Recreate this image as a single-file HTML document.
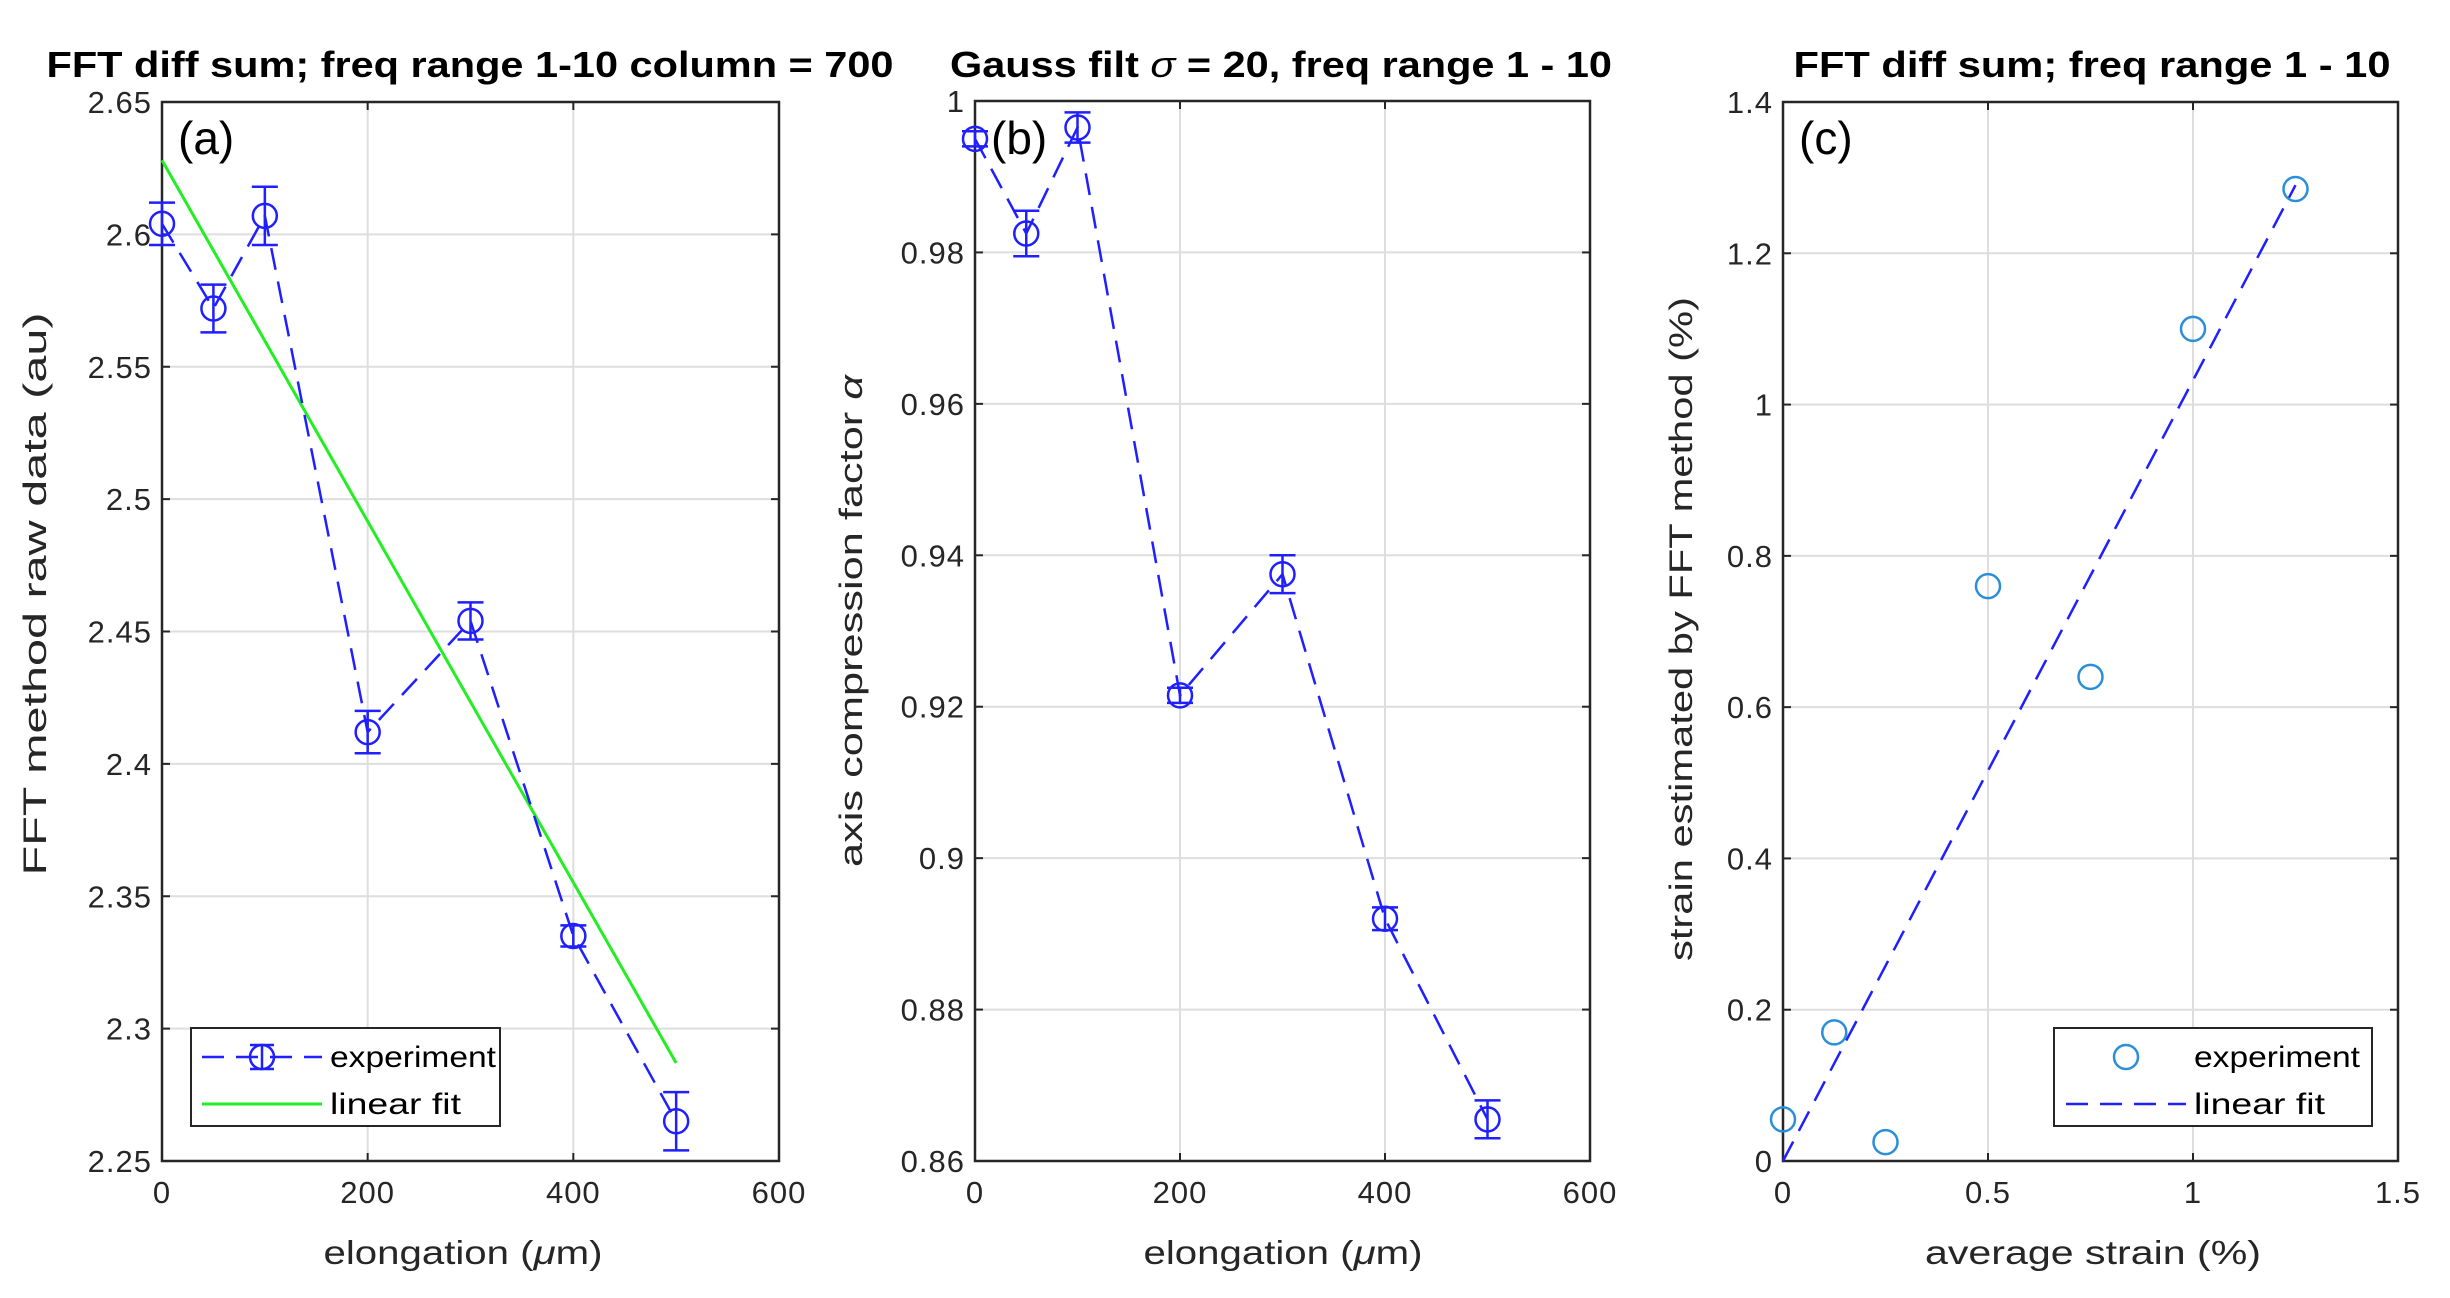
<!DOCTYPE html>
<html><head><meta charset="utf-8"><style>
html,body{margin:0;padding:0;background:#fff;}
svg{display:block;}
text{font-family:"Liberation Sans",sans-serif;}
.tick{font-size:31px;fill:#262626;letter-spacing:1px;}
</style></head><body>
<svg id="fig" width="2450" height="1298" viewBox="0 0 2450 1298" xmlns="http://www.w3.org/2000/svg"></svg>
<script>
// Panel (a) data
const aX = [0, 50, 100, 200, 300, 400, 500];
const aY = [2.604, 2.572, 2.607, 2.412, 2.454, 2.335, 2.265];
const aErr = [0.008, 0.009, 0.011, 0.008, 0.007, 0.004, 0.011];
const aFitX = [0, 500];
const aFitY = [2.628, 2.287];
const aXTicks = [0, 200, 400, 600];
const aYTicks = [2.25, 2.3, 2.35, 2.4, 2.45, 2.5, 2.55, 2.6, 2.65];
const aYTickLabels = ["2.25","2.3","2.35","2.4","2.45","2.5","2.55","2.6","2.65"];
// Panel (b) data
const bX = [0, 50, 100, 200, 300, 400, 500];
const bY = [0.995, 0.9825, 0.9965, 0.9215, 0.9375, 0.892, 0.8655];
const bErr = [0.001, 0.003, 0.002, 0.001, 0.0025, 0.0015, 0.0025];
const bXTicks = [0, 200, 400, 600];
const bYTicks = [0.86, 0.88, 0.9, 0.92, 0.94, 0.96, 0.98, 1];
const bYTickLabels = ["0.86","0.88","0.9","0.92","0.94","0.96","0.98","1"];
// Panel (c) data
const cX = [0, 0.125, 0.25, 0.5, 0.75, 1, 1.25];
const cY = [0.055, 0.17, 0.025, 0.76, 0.64, 1.1, 1.285];
const cFitX = [0, 1.25];
const cFitY = [0, 1.29];
const cXTicks = [0, 0.5, 1, 1.5];
const cXTickLabels = ["0","0.5","1","1.5"];
const cYTicks = [0, 0.2, 0.4, 0.6, 0.8, 1, 1.2, 1.4];
const cYTickLabels = ["0","0.2","0.4","0.6","0.8","1","1.2","1.4"];

const NS = "http://www.w3.org/2000/svg";
const svg = document.getElementById("fig");
function mk(tag, attrs, parent, txt) {
  const e = document.createElementNS(NS, tag);
  for (const k in attrs) e.setAttribute(k, attrs[k]);
  if (txt !== undefined) e.textContent = txt;
  (parent || svg).appendChild(e);
  return e;
}
function scale(d0, d1, r0, r1) { return v => r0 + (v - d0) / (d1 - d0) * (r1 - r0); }

function axes(p, g) {
  const sx = scale(p.xmin, p.xmax, p.L, p.R), sy = scale(p.ymin, p.ymax, p.B, p.T);
  p.xTicks.forEach((t, i) => {
    const x = sx(t);
    const gl = mk("line", {x1:x, x2:x, y1:p.T, y2:p.B, stroke:"#dedede", "stroke-width":2}, g);
    
    
    mk("line", {x1:x, x2:x, y1:p.B, y2:p.B-8, stroke:"#262626", "stroke-width":2}, g);
    mk("line", {x1:x, x2:x, y1:p.T, y2:p.T+8, stroke:"#262626", "stroke-width":2}, g);
    const tl = mk("text", {x:x, y:p.B+42, "text-anchor":"middle", class:"tick"}, g, p.xLabels ? p.xLabels[i] : String(t));
    
    
  });
  p.yTicks.forEach((t, i) => {
    const y = sy(t);
    const gl = mk("line", {x1:p.L, x2:p.R, y1:y, y2:y, stroke:"#dedede", "stroke-width":2}, g);
    
    
    mk("line", {x1:p.L, x2:p.L+8, y1:y, y2:y, stroke:"#262626", "stroke-width":2}, g);
    mk("line", {x1:p.R, x2:p.R-8, y1:y, y2:y, stroke:"#262626", "stroke-width":2}, g);
    const tl = mk("text", {x:p.L-10, y:y+11, "text-anchor":"end", class:"tick"}, g, p.yLabels[i]);
    
    
  });
  const box = mk("rect", {x:p.L, y:p.T, width:p.R-p.L, height:p.B-p.T, fill:"none", stroke:"#262626", "stroke-width":2.5}, g);
  
  
  const ti = mk("text", {x:p.titleX, y:77, "text-anchor":"middle", "font-size":36, "font-weight":"bold", fill:"#000", textLength:p.titleLen, lengthAdjust:"spacingAndGlyphs"}, g);
  
  
  ti.innerHTML = p.title;
  const xl = mk("text", {x:p.xTitleX, y:1264, "text-anchor":"middle", "font-size":33, fill:"#262626", textLength:p.xTitleLen, lengthAdjust:"spacingAndGlyphs"}, g);
  
  
  xl.innerHTML = p.xTitle;
  const yl = mk("text", {x:0, y:0, transform:`translate(${p.yTitleX},${p.yTitleC}) rotate(-90)`, "text-anchor":"middle", "font-size":32, fill:"#262626", textLength:p.yTitleLen, lengthAdjust:"spacingAndGlyphs"}, g);
  
  
  yl.innerHTML = p.yTitle;
  const pl = mk("text", {x:p.L+16, y:154, "font-size":46, fill:"#000"}, g, p.panel);
  
  
  return [sx, sy];
}

function errSeries(xs, ys, errs, sx, sy, g) {
  const pts = xs.map((x, i) => sx(x) + "," + sy(ys[i])).join(" ");
  const ln = mk("polyline", {points:pts, fill:"none", stroke:"#1f1fff", "stroke-width":2.5, "stroke-dasharray":"22,12"}, g);
  
  
  xs.forEach((x, i) => {
    const cx = sx(x), cy = sy(ys[i]), y1 = sy(ys[i] + errs[i]), y2 = sy(ys[i] - errs[i]);
    const eg = mk("g", {stroke:"#1f1fff", "stroke-width":2.5, fill:"none"}, g);
    
    
    mk("line", {x1:cx, x2:cx, y1:y1, y2:y2}, eg);
    mk("line", {x1:cx-13, x2:cx+13, y1:y1, y2:y1}, eg);
    mk("line", {x1:cx-13, x2:cx+13, y1:y2, y2:y2}, eg);
    mk("circle", {cx:cx, cy:cy, r:12}, eg);
  });
}

function legend(x, y, w, g, items) {
  const lg = mk("g", {}, g);
  
  
  mk("rect", {x:x, y:y, width:w, height:98, fill:"#fff", stroke:"#262626", "stroke-width":2}, lg);
  items(lg);
}

// Panel a
{
  const g = mk("g", {});  
  const p = {L:162, R:779, T:102, B:1161, xmin:0, xmax:600, ymin:2.25, ymax:2.65, xTicks:aXTicks, yTicks:aYTicks, yLabels:aYTickLabels,
    title:"FFT diff sum; freq range 1-10 column = 700", titleX:470, titleLen:847,
    xTitle:"elongation (<tspan font-style='italic'>μ</tspan>m)", xTitleX:463, xTitleLen:279,
    yTitle:"FFT method raw data (au)", yTitleX:46, yTitleC:594, yTitleLen:563, panel:"(a)"};
  const [sx, sy] = axes(p, g);
  const fit = mk("line", {x1:sx(aFitX[0]), y1:sy(aFitY[0]), x2:sx(aFitX[1]), y2:sy(aFitY[1]), stroke:"#22ee22", "stroke-width":3}, g);
  
  
  errSeries(aX, aY, aErr, sx, sy, g);
  legend(191, 1028, 309, g, lg => {
    mk("line", {x1:202, x2:322, y1:1057, y2:1057, stroke:"#1f1fff", "stroke-width":2.5, "stroke-dasharray":"22,12"}, lg);
    mk("circle", {cx:262, cy:1057, r:12, stroke:"#1f1fff", "stroke-width":2.5, fill:"none"}, lg);
    mk("line", {x1:262, x2:262, y1:1045, y2:1069, stroke:"#1f1fff", "stroke-width":2.5}, lg);
    mk("line", {x1:250, x2:274, y1:1045, y2:1045, stroke:"#1f1fff", "stroke-width":2.5}, lg);
    mk("line", {x1:250, x2:274, y1:1069, y2:1069, stroke:"#1f1fff", "stroke-width":2.5}, lg);
    mk("text", {x:330, y:1067, "font-size":30, fill:"#000", textLength:166, lengthAdjust:"spacingAndGlyphs"}, lg, "experiment");
    mk("line", {x1:202, x2:322, y1:1104, y2:1104, stroke:"#22ee22", "stroke-width":3}, lg);
    mk("text", {x:330, y:1114, "font-size":30, fill:"#000", textLength:131, lengthAdjust:"spacingAndGlyphs"}, lg, "linear fit");
  });
}
// Panel b
{
  const g = mk("g", {});  
  const p = {L:975, R:1590, T:101, B:1161, xmin:0, xmax:600, ymin:0.86, ymax:1, xTicks:bXTicks, yTicks:bYTicks, yLabels:bYTickLabels,
    title:"Gauss filt <tspan font-style='italic' font-weight='normal'>σ</tspan> = 20, freq range 1 - 10", titleX:1281, titleLen:662,
    xTitle:"elongation (<tspan font-style='italic'>μ</tspan>m)", xTitleX:1283, xTitleLen:279,
    yTitle:"axis compression factor <tspan font-style='italic'>α</tspan>", yTitleX:862, yTitleC:621, yTitleLen:492, panel:"(b)"};
  const [sx, sy] = axes(p, g);
  errSeries(bX, bY, bErr, sx, sy, g);
}
// Panel c
{
  const g = mk("g", {});  
  const p = {L:1783, R:2398, T:102, B:1161, xmin:0, xmax:1.5, ymin:0, ymax:1.4, xTicks:cXTicks, xLabels:cXTickLabels, yTicks:cYTicks, yLabels:cYTickLabels,
    title:"FFT diff sum; freq range 1 - 10", titleX:2092, titleLen:597,
    xTitle:"average strain (%)", xTitleX:2093, xTitleLen:336,
    yTitle:"strain estimated by FFT method (%)", yTitleX:1692, yTitleC:629, yTitleLen:664, panel:"(c)"};
  const [sx, sy] = axes(p, g);
  const fit = mk("line", {x1:sx(cFitX[0]), y1:sy(cFitY[0]), x2:sx(cFitX[1]), y2:sy(cFitY[1]), stroke:"#1f1fff", "stroke-width":2.5, "stroke-dasharray":"22,12"}, g);
  
  
  cX.forEach((x, i) => {
    const c = mk("circle", {cx:sx(x), cy:sy(cY[i]), r:12, fill:"none", stroke:"#2a8fd8", "stroke-width":2.5}, g);
    
    
  });
  legend(2054, 1028, 318, g, lg => {
    mk("circle", {cx:2126, cy:1057, r:12, stroke:"#2a8fd8", "stroke-width":2.5, fill:"none"}, lg);
    mk("text", {x:2194, y:1067, "font-size":30, fill:"#000", textLength:166, lengthAdjust:"spacingAndGlyphs"}, lg, "experiment");
    mk("line", {x1:2066, x2:2186, y1:1104, y2:1104, stroke:"#1f1fff", "stroke-width":2.5, "stroke-dasharray":"22,12"}, lg);
    mk("text", {x:2194, y:1114, "font-size":30, fill:"#000", textLength:131, lengthAdjust:"spacingAndGlyphs"}, lg, "linear fit");
  });
}
</script>
</body></html>
